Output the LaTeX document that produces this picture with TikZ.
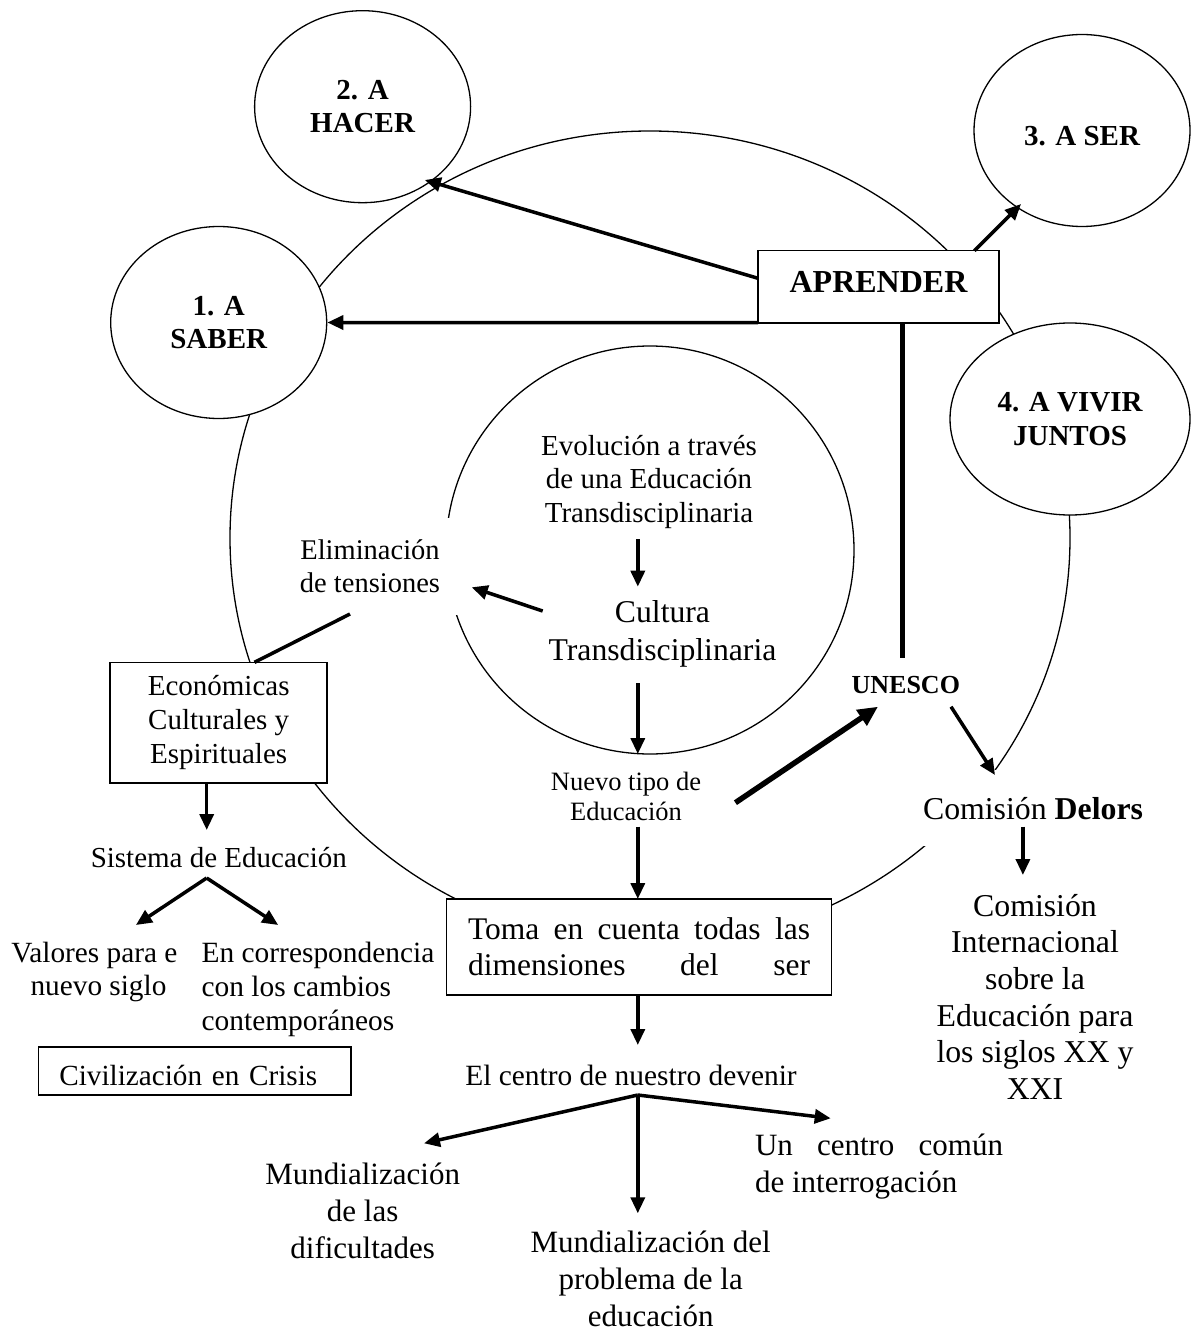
\documentclass[tikz,border=0pt]{standalone}
\usepackage{fontspec}
\setmainfont{Liberation Serif}
\usetikzlibrary{shapes.geometric,arrows.meta,calc}
\newcommand\fsz[2]{\fontsize{#1pt}{#2pt}\selectfont}
\tikzset{
  ring/.style={ellipse, draw, line width=1.3pt, inner sep=0pt},
  bubble/.style={ellipse, draw, fill=white, line width=1.3pt, inner sep=0pt,
    minimum width=216pt, minimum height=192pt, align=center, font=\fsz{29}{33.5}\bfseries},
  tbox/.style={rectangle, draw, fill=white, line width=1.6pt, inner sep=0pt, align=center},
  lbl/.style={inner sep=0pt, align=center},
  arr/.style={line width=3.5pt, -{Triangle[length=16pt,width=14pt]}},
  heavyarr/.style={line width=5.5pt, -{Triangle[length=20pt,width=18pt]}},
  plainbar/.style={line width=3.5pt},
  heavybar/.style={line width=5pt},
}
\begin{document}
\begin{tikzpicture}[x=1pt,y=-1pt]
\useasboundingbox (0,0) rectangle (1193,1332);
% background rings
\node[ring, minimum width=840pt, minimum height=814pt] (bigring) at (650,538) {};
\node[ring, circle, minimum size=408pt] (innerring) at (650,550) {};
% bubbles
\node[bubble] (hacer) at (362.6,106.7) {2. A\\HACER};
\node[bubble] (saber) at (218.7,322.5) {1. A\\SABER};
\node[bubble, text height=31pt, text depth=0pt] (ser) at (1082,130.5) {3. A SER};
\node[bubble, minimum width=240pt] (vivir) at (1070,419) {4. A VIVIR\\JUNTOS};
\node[tbox, minimum width=241pt, minimum height=72pt, text height=21.6pt, text depth=10pt, font=\fsz{32}{38}\bfseries] (aprender) at (878.5,286.7) {APRENDER};
% centre texts
\node[lbl, font=\fsz{29}{33.5}] (evol) at (649,482) {Evolución a través\\de una Educación\\Transdisciplinaria};
\node[lbl, font=\fsz{31.7}{38.3}] (cultura) at (662.5,634) {Cultura\\Transdisciplinaria};
\node[lbl, fill=white, minimum width=184pt, minimum height=97pt, font=\fsz{28.5}{33}] (elim) at (370,566.5) {Eliminación\\de tensiones};
\node[tbox, minimum width=217pt, minimum height=120.4pt, font=\fsz{29}{33.8}] (econ) at (218.7,722.5) {Económicas\\Culturales y\\Espirituales};
\node[lbl, font=\fsz{29}{34}] (sistema) at (218.8,857.3) {Sistema de Educación};
\begin{scope}
\clip (0,930) rectangle (176.5,1012);
\node[lbl, font=\fsz{29.3}{33.3}] (valores) at (98.5,971.7) {Valores para el\\nuevo siglo};
\end{scope}
\node[lbl, align=left, font=\fsz{29.4}{34}] (corresp) at (318,989) {En correspondencia\\con los cambios\\contemporáneos};
\node[tbox, minimum width=312.7pt, minimum height=48.3pt, inner xsep=21pt, text width=270.7pt, text height=29pt, text depth=0pt, align=left, font=\fsz{29.2}{34}] (civil) at (194.7,1070.9) {Civilización en Crisis};
\node[tbox, minimum width=384.9pt, minimum height=96pt, font=\fsz{31.5}{36}] (toma) at (639,947) {\makebox[342pt]{Toma\hfill en\hfill cuenta\hfill todas\hfill las}\\\makebox[342pt]{dimensiones\hfill del\hfill ser}};
\node[lbl, font=\fsz{26.5}{30}] (nuevo) at (626,796.7) {Nuevo tipo de\\Educación};
\node[lbl, font=\fsz{26}{30}\bfseries] (unesco) at (905.8,685) {UNESCO};
\node[lbl, fill=white, minimum width=240pt, minimum height=76pt, font=\fsz{31.8}{36}] (delors) at (1033,808.3) {Comisión \textbf{Delors}};
\node[lbl, font=\fsz{31.8}{36.7}] (intl) at (1035,996.7) {Comisión\\Internacional\\sobre la\\Educación para\\los siglos XX y\\XXI};
\node[lbl, font=\fsz{29.4}{34}] (centro) at (631,1075) {El centro de nuestro devenir};
\node[lbl, font=\fsz{31}{37}] (mundA) at (362.7,1210.6) {Mundialización\\de las\\dificultades};
\node[lbl, font=\fsz{31}{37}] (mundB) at (650.7,1278.5) {Mundialización del\\problema de la\\educación};
\node[lbl, align=left, font=\fsz{31}{36.7}] (comun) at (879,1166.7) {\makebox[248pt]{Un\hfill centro\hfill común}\\de interrogación};
% branch points
\coordinate (apexA) at ($(sistema)+(-12.1,20.7)$);
\coordinate (apexB) at ($(centro)+(6.8,20)$);
% connectors
\draw[arr] ($(aprender)+(-120.5,36)$) -- (saber.east);
\draw[arr] ($(aprender)+(-120.5,-8.4)$) -- ($(hacer)+(62.2,73.3)$);
\draw[arr] ($(aprender)+(95.9,-36)$) -- ($(ser)+(-61,73.5)$);
\draw[heavybar] ($(aprender)+(24.1,36)$) -- ($(unesco)+(-3.2,-26.7)$);
\draw[arr] ($(evol)+(-11.2,57.3)$) -- ($(cultura)+(-24.7,-47.3)$);
\draw[arr] ($(cultura)+(-24.7,49.3)$) -- ($(nuevo)+(11.8,-42.7)$);
\draw[arr] ($(cultura)+(-119.8,-23)$) -- ($(elim)+(101.7,20.8)$);
\draw[plainbar] ($(elim)+(-20,47.5)$) -- ($(econ)+(35.8,-60.2)$);
\draw[arr] ($(econ)+(-12,60.2)$) -- ($(sistema)+(-12.1,-27.3)$);
\draw[arr] (apexA) -- ($(valores)+(37.4,-46.7)$);
\draw[arr] (apexA) -- ($(corresp)+(-39.8,-64)$);
\draw[heavyarr] ($(nuevo)+(109.4,6)$) -- ($(unesco)+(-27.8,21.7)$);
\draw[arr] ($(unesco)+(45.2,21.7)$) -- ($(delors)+(-38,-33.3)$);
\draw[arr] ($(nuevo)+(11.8,30)$) -- ($(toma)+(-1.2,-48)$);
\draw[arr] ($(toma)+(-1.2,48)$) -- ($(centro)+(6.8,-30)$);
\draw[arr] (apexB) -- ($(mundA)+(61.3,-67.3)$);
\draw[arr] (apexB) -- ($(comun)+(-48.3,-48.4)$);
\draw[arr] (apexB) -- ($(mundB)+(-12.9,-65.2)$);
\draw[arr] ($(delors)+(-10.1,18.4)$) -- ($(intl)+(-12.1,-121.7)$);
\end{tikzpicture}
\end{document}
